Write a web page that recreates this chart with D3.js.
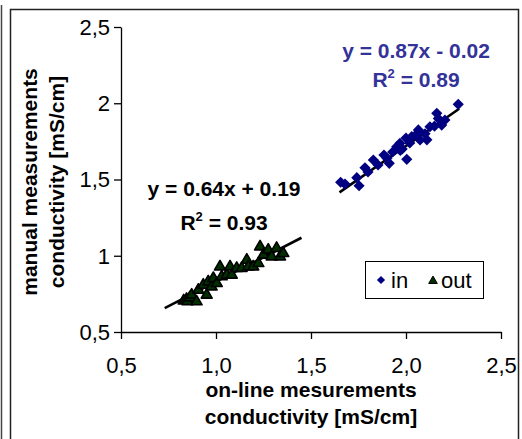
<!DOCTYPE html>
<html>
<head>
<meta charset="utf-8">
<script src="https://cdn.jsdelivr.net/npm/d3@7"></script>
<style>
  body { margin: 0; background: #fff; }
  text { font-family: "Liberation Sans", Arial, sans-serif; }
</style>
</head>
<body>
<div id="chart"></div>
<script>
// "in" samples (on-line, manual)
const inX = [1.656, 1.679, 1.741, 1.753, 1.784, 1.80, 1.828, 1.853, 1.884, 1.90, 1.912, 1.93, 1.951, 1.968, 1.97, 1.98,
             2.0, 2.004, 2.02, 2.03, 2.05, 2.065, 2.074, 2.10, 2.11, 2.126, 2.15, 2.162, 2.17, 2.188, 2.205, 2.275];
const inY = [1.482, 1.470, 1.512, 1.459, 1.577, 1.55, 1.628, 1.595, 1.661, 1.64, 1.606, 1.68, 1.715, 1.737, 1.69, 1.70,
             1.772, 1.632, 1.74, 1.781, 1.79, 1.825, 1.759, 1.80, 1.76, 1.846, 1.85, 1.934, 1.90, 1.857, 1.890, 1.993];

// "out" samples
const outX = [0.83, 0.845, 0.85, 0.862, 0.872, 0.898, 0.907, 0.933, 0.951, 0.959, 0.977, 0.986, 1.004, 1.021, 1.030,
              1.056, 1.074, 1.083, 1.109, 1.135, 1.162, 1.170, 1.196, 1.223, 1.232, 1.249, 1.275, 1.293, 1.319, 1.337, 1.354];
const outY = [0.705, 0.715, 0.70, 0.725, 0.743, 0.699, 0.775, 0.808, 0.743, 0.830, 0.797, 0.852, 0.819, 0.928, 0.863,
              0.874, 0.928, 0.874, 0.918, 0.918, 0.972, 0.928, 0.928, 0.950, 1.059, 1.005, 1.038, 0.994, 1.049, 0.994, 1.016];

// trendline end points
const trendIn = [[1.65, 1.416], [2.28, 1.964]];
const trendOut = [[0.73, 0.657], [1.45, 1.118]];

const xTicks = [0.5, 1.0, 1.5, 2.0, 2.5];
const xTickLabels = ["0,5", "1,0", "1,5", "2,0", "2,5"];
const yTicks = [0.5, 1, 1.5, 2, 2.5];
const yTickLabels = ["0,5", "1", "1,5", "2", "2,5"];

const W = 522, H = 439;
const svg = d3.select("#chart").append("svg")
  .attr("width", W).attr("height", H);

// frame
svg.append("line").attr("x1", 1.5).attr("x2", 1.5).attr("y1", 5).attr("y2", H)
  .attr("stroke", "#444").attr("stroke-width", 1.5);
svg.append("path").attr("d", `M10.5,${H}V9.5H518.5V${H}`)
  .attr("fill", "none").attr("stroke", "#222").attr("stroke-width", 1.5);

const x = d3.scaleLinear().domain([0.5, 2.5]).range([121, 501]);
const y = d3.scaleLinear().domain([0.5, 2.5]).range([332, 27]);

const xAxis = svg.append("g")
  .attr("transform", `translate(0,${y(0.5)})`)
  .call(d3.axisBottom(x).tickValues(xTicks).tickSize(7).tickSizeOuter(0)
    .tickFormat((d, i) => xTickLabels[i]));
const yAxis = svg.append("g")
  .attr("transform", `translate(${x(0.5)},0)`)
  .call(d3.axisLeft(y).tickValues(yTicks).tickSize(7).tickSizeOuter(0)
    .tickFormat((d, i) => yTickLabels[i]));

[xAxis, yAxis].forEach(g => {
  g.select(".domain").attr("stroke", "#000").attr("stroke-width", 1.3);
  g.selectAll(".tick line").attr("stroke", "#000").attr("stroke-width", 1.3);
  g.selectAll(".tick text").attr("font-size", 22).attr("fill", "#000")
    .attr("font-family", "Liberation Sans, Arial, sans-serif");
});
xAxis.selectAll(".tick text").attr("y", 0).attr("dy", 0).attr("transform", "translate(0,41)");
yAxis.selectAll(".tick text").attr("x", -11).attr("dy", "0.33em");

// axis titles
const xt = svg.append("text").attr("text-anchor", "middle")
  .attr("font-size", 21).attr("font-weight", "bold");
xt.append("tspan").attr("x", 311).attr("y", 397).text("on-line mesurements");
xt.append("tspan").attr("x", 311).attr("y", 424).text("conductivity [mS/cm]");

const yt = svg.append("text").attr("text-anchor", "middle")
  .attr("font-size", 21).attr("font-weight", "bold")
  .attr("transform", "rotate(-90)");
yt.append("tspan").attr("x", -182).attr("y", 37).text("manual measurements");
yt.append("tspan").attr("x", -182).attr("y", 64).text("conductivity [mS/cm]");

// trendlines
const line = d3.line().x(d => x(d[0])).y(d => y(d[1]));
[trendIn, trendOut].forEach(t => {
  svg.append("path").attr("d", line(t))
    .attr("stroke", "#000").attr("stroke-width", 2.6).attr("fill", "none");
});

// points
const inData = inX.map((v, i) => [v, inY[i]]);
const outData = outX.map((v, i) => [v, outY[i]]);

const diamond = d3.symbol().type(d3.symbolSquare).size(62);
const tri = d3.symbol().type(d3.symbolTriangle).size(52);

svg.append("g").selectAll("path").data(outData).join("path")
  .attr("d", tri)
  .attr("transform", d => `translate(${x(d[0])},${y(d[1])})`)
  .attr("fill", "#003000").attr("stroke", "#000").attr("stroke-width", 1.6)
  .attr("stroke-linejoin", "round");

svg.append("g").selectAll("path").data(inData).join("path")
  .attr("d", diamond)
  .attr("transform", d => `translate(${x(d[0])},${y(d[1])}) rotate(45)`)
  .attr("fill", "#000080");

// equations
const eqIn = svg.append("text").attr("text-anchor", "middle")
  .attr("font-size", 21).attr("font-weight", "bold").attr("fill", "#333399");
eqIn.append("tspan").attr("x", 416).attr("y", 58).text("y = 0.87x - 0.02");
const r1 = eqIn.append("tspan").attr("x", 416).attr("y", 87);
r1.append("tspan").text("R");
r1.append("tspan").attr("font-size", 13).attr("dy", -9).text("2");
r1.append("tspan").attr("dy", 9).text(" = 0.89");

const eqOut = svg.append("text").attr("text-anchor", "middle")
  .attr("font-size", 21).attr("font-weight", "bold").attr("fill", "#000");
eqOut.append("tspan").attr("x", 224).attr("y", 196).text("y = 0.64x + 0.19");
const r2 = eqOut.append("tspan").attr("x", 224).attr("y", 230);
r2.append("tspan").text("R");
r2.append("tspan").attr("font-size", 13).attr("dy", -9).text("2");
r2.append("tspan").attr("dy", 9).text(" = 0.93");

// legend
const lg = svg.append("g");
lg.append("rect").attr("x", 365.5).attr("y", 261.5).attr("width", 118).attr("height", 37)
  .attr("fill", "#fff").attr("stroke", "#000").attr("stroke-width", 1);
lg.append("path").attr("d", d3.symbol().type(d3.symbolSquare).size(34))
  .attr("transform", "translate(381,280) rotate(45)").attr("fill", "#000080");
lg.append("text").attr("x", 391).attr("y", 288).attr("font-size", 22).text("in");
lg.append("path").attr("d", d3.symbol().type(d3.symbolTriangle).size(32))
  .attr("transform", "translate(433,281)").attr("fill", "#003000").attr("stroke", "#000");
lg.append("text").attr("x", 441).attr("y", 288).attr("font-size", 22).text("out");
</script>
</body>
</html>
